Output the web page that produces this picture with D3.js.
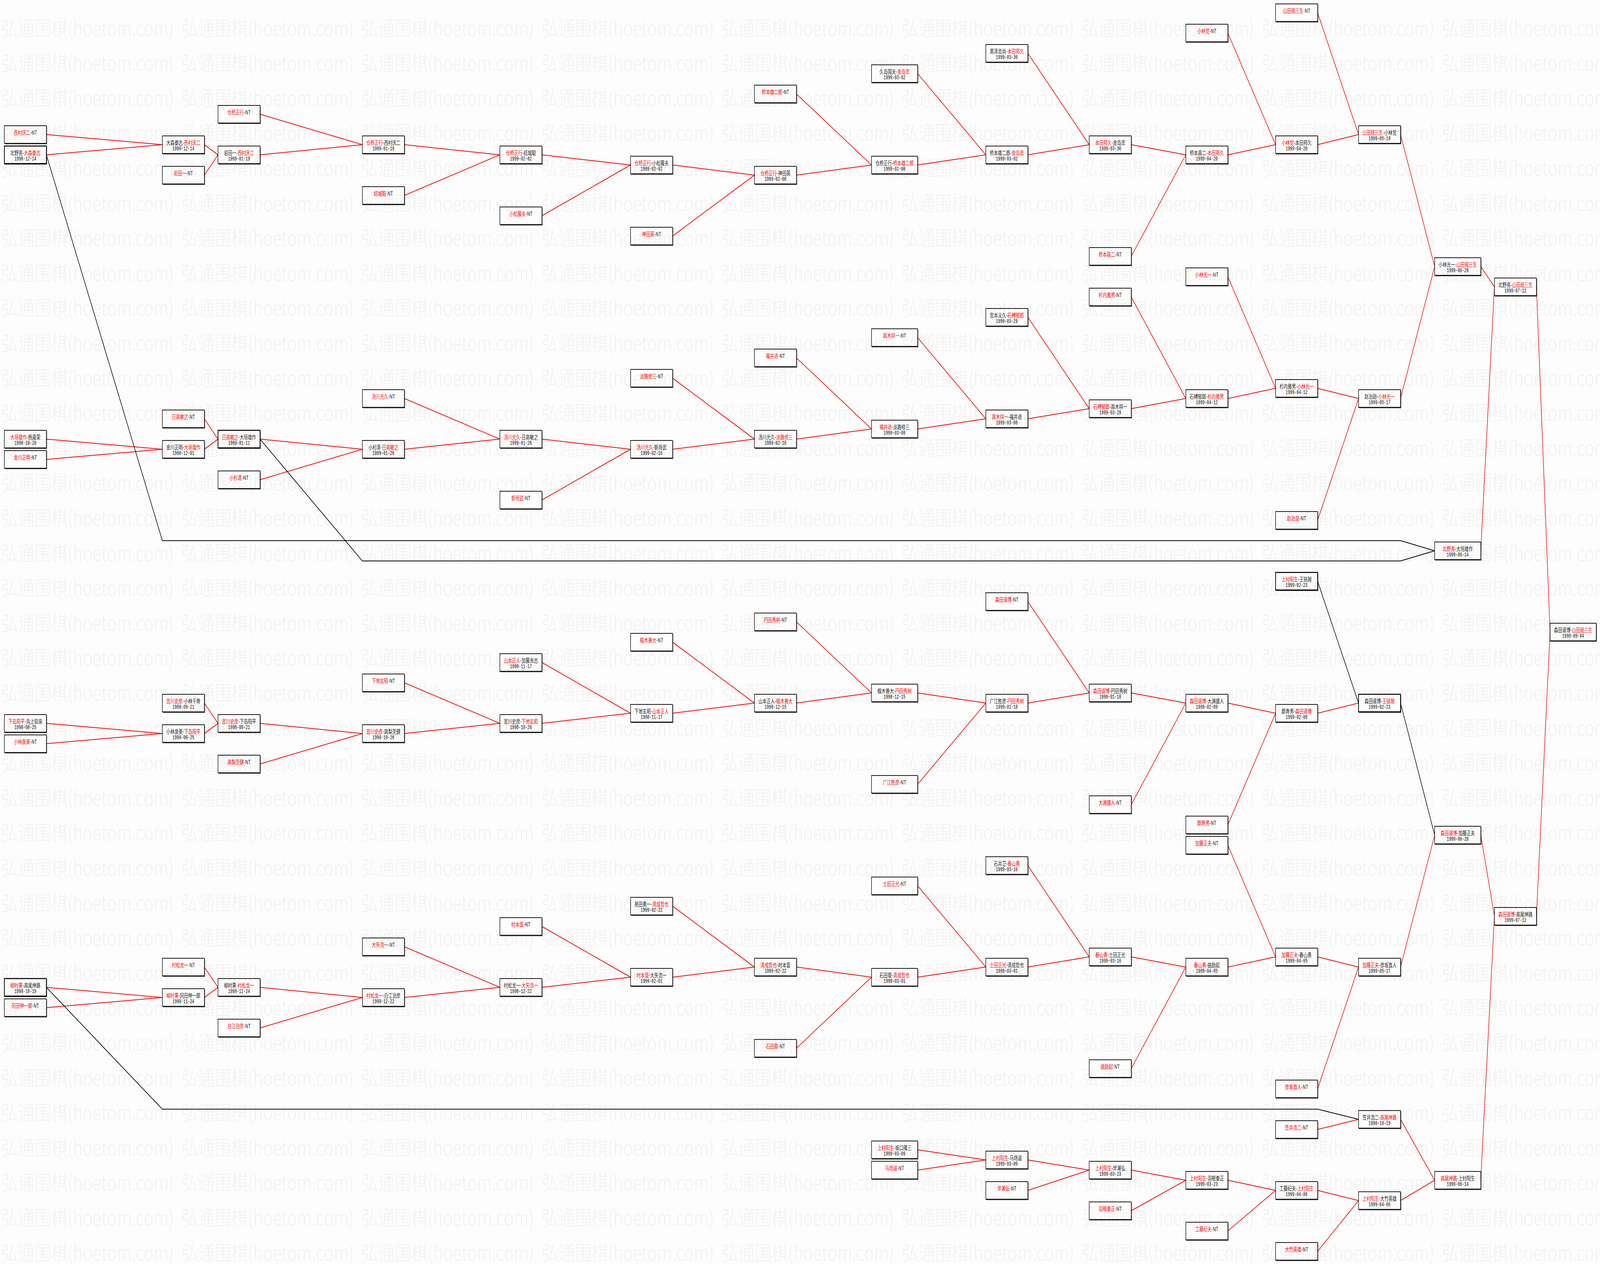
<!DOCTYPE html>
<html>
<head>
<meta charset="utf-8">
<script src="https://cdn.jsdelivr.net/npm/d3@7"></script>
<style>
  html, body { margin: 0; padding: 0; background: #fdfdfd; overflow: hidden; }
  svg { display: block; width: 100vw; height: 100vh; }
</style>
</head>
<body>
<svg id="chart" viewBox="0 0 5864 3237" preserveAspectRatio="none"></svg>
<script>
// each box: [round, slot, playerA, playerB, winner (1 = A, 2 = B), date]
// "NT" as playerB means a bye (no game), playerA goes through
const groupKurahashi = [
  [0, 12, "西村庆二", "NT"],
  [0, 14, "北野亮", "大森泰志", 2, "1998-12-14"],
  [1, 13, "大森泰志", "西村庆二", 2, "1998-12-14"],
  [1, 16, "岩田一", "NT"],
  [2, 10, "仓桥正行", "NT"],
  [2, 14, "岩田一", "西村庆二", 2, "1999-01-19"],
  [3, 13, "仓桥正行", "西村庆二", 1, "1999-01-19"],
  [3, 18, "结城聪", "NT"],
  [4, 14, "仓桥正行", "结城聪", 1, "1999-02-02"],
  [4, 20, "小松藤夫", "NT"],
  [5, 15, "仓桥正行", "小松藤夫", 1, "1999-02-02"],
  [5, 22, "神田英", "NT"],
  [6, 8, "桥本雄二郎", "NT"],
  [6, 16, "仓桥正行", "神田英", 1, "1999-02-08"],
  [7, 6, "久岛国夫", "金岛忠", 2, "1999-03-02"],
  [7, 15, "仓桥正行", "桥本雄二郎", 2, "1999-02-08"],
  [8, 4, "黑泽忠尚", "本田邦久", 2, "1999-03-30"],
  [8, 14, "桥本雄二郎", "金岛忠", 2, "1999-03-02"],
  [9, 13, "本田邦久", "金岛忠", 1, "1999-03-30"],
  [9, 24, "桥本昌二", "NT"],
  [10, 2, "小林觉", "NT"],
  [10, 14, "桥本昌二", "本田邦久", 2, "1999-04-20"],
  [11, 0, "山田规三生", "NT"],
  [11, 13, "小林觉", "本田邦久", 1, "1999-04-20"],
  [12, 12, "山田规三生", "小林觉", 1, "1999-05-10"],
  [13, 25, "小林光一", "山田规三生", 2, "1999-06-28"],
  [14, 27, "北野亮", "山田规三生", 2, "1999-07-12"],
  [15, 61, "森田道博", "山田规三生", 2, "1999-09-04"]
];

const groupYukawa = [
  [0, 42, "大垣雄作", "杨嘉荣", 1, "1998-10-20"],
  [0, 44, "金川正明", "NT"],
  [1, 40, "日高敏之", "NT"],
  [1, 43, "金川正明", "大垣雄作", 2, "1998-12-01"],
  [2, 42, "日高敏之", "大垣雄作", 1, "1999-01-11"],
  [2, 46, "小杉清", "NT"],
  [3, 38, "汤川光久", "NT"],
  [3, 43, "小杉清", "日高敏之", 2, "1999-01-26"],
  [4, 42, "汤川光久", "日高敏之", 1, "1999-01-26"],
  [4, 48, "新垣武", "NT"],
  [5, 36, "淡路修三", "NT"],
  [5, 43, "汤川光久", "新垣武", 1, "1999-02-16"],
  [6, 34, "福井进", "NT"],
  [6, 42, "汤川光久", "淡路修三", 2, "1999-02-16"],
  [7, 32, "高木祥一", "NT"],
  [7, 41, "福井进", "淡路修三", 1, "1999-03-08"],
  [8, 30, "宫本义久", "石榑郁郎", 2, "1999-03-29"],
  [8, 40, "高木祥一", "福井进", 1, "1999-03-08"],
  [9, 28, "杉内雅男", "NT"],
  [9, 39, "石榑郁郎", "高木祥一", 1, "1999-03-29"],
  [10, 26, "小林光一", "NT"],
  [10, 38, "石榑郁郎", "杉内雅男", 2, "1999-04-12"],
  [11, 37, "杉内雅男", "小林光一", 2, "1999-04-12"],
  [11, 50, "赵治勋", "NT"],
  [12, 38, "赵治勋", "小林光一", 2, "1999-05-17"],
  [13, 53, "北野亮", "大垣雄作", 1, "1999-06-14"]
];

const groupMiyakawa = [
  [0, 70, "下岛阳平", "沟上知亲", 1, "1998-08-25"],
  [0, 72, "小林泉美", "NT"],
  [1, 68, "宫川史彦", "小林千寿", 1, "1998-09-21"],
  [1, 71, "小林泉美", "下岛阳平", 2, "1998-08-25"],
  [2, 70, "宫川史彦", "下岛阳平", 1, "1998-09-21"],
  [2, 74, "高梨圣健", "NT"],
  [3, 66, "下地玄昭", "NT"],
  [3, 71, "宫川史彦", "高梨圣健", 1, "1998-10-26"],
  [4, 64, "山本正人", "加藤充志", 1, "1998-11-17"],
  [4, 70, "宫川史彦", "下地玄昭", 2, "1998-10-26"],
  [5, 62, "植木善大", "NT"],
  [5, 69, "下地玄昭", "山本正人", 2, "1998-11-17"],
  [6, 60, "円田秀树", "NT"],
  [6, 68, "山本正人", "植木善大", 2, "1998-12-15"],
  [7, 67, "植木善大", "円田秀树", 2, "1998-12-15"],
  [7, 76, "广江胜彦", "NT"],
  [8, 58, "森田道博", "NT"],
  [8, 68, "广江胜彦", "円田秀树", 2, "1999-01-18"],
  [9, 67, "森田道博", "円田秀树", 1, "1999-01-18"],
  [9, 78, "大渊盛人", "NT"],
  [10, 68, "森田道博", "大渊盛人", 1, "1999-02-09"],
  [10, 80, "郡寿男", "NT"],
  [11, 56, "上村阳生", "王铭琬", 1, "1999-02-23"],
  [11, 69, "郡寿男", "森田道博", 2, "1999-02-09"],
  [12, 68, "森田道博", "王铭琬", 2, "1999-02-23"],
  [13, 81, "森田道博", "加藤正夫", 1, "1999-06-28"],
  [14, 89, "森田道博", "高尾绅路", 1, "1999-07-12"]
];

const groupKiyonari = [
  [0, 96, "柳时熏", "高尾绅路", 1, "1998-10-19"],
  [0, 98, "冈田伸一郎", "NT"],
  [1, 94, "村松龙一", "NT"],
  [1, 97, "柳时熏", "冈田伸一郎", 1, "1998-11-24"],
  [2, 96, "柳时熏", "村松龙一", 2, "1998-11-24"],
  [2, 100, "白江治彦", "NT"],
  [3, 92, "大矢浩一", "NT"],
  [3, 97, "村松龙一", "白江治彦", 1, "1998-12-22"],
  [4, 90, "时本壹", "NT"],
  [4, 96, "村松龙一", "大矢浩一", 2, "1998-12-22"],
  [5, 88, "苑田勇一", "清成哲也", 2, "1999-02-22"],
  [5, 95, "时本壹", "大矢浩一", 1, "1999-02-01"],
  [6, 94, "清成哲也", "时本壹", 1, "1999-02-22"],
  [6, 102, "石田章", "NT"],
  [7, 86, "土田正光", "NT"],
  [7, 95, "石田章", "清成哲也", 2, "1999-03-01"],
  [8, 84, "石井卫", "春山勇", 2, "1999-03-16"],
  [8, 94, "土田正光", "清成哲也", 1, "1999-03-01"],
  [9, 93, "春山勇", "土田正光", 1, "1999-03-16"],
  [9, 104, "曲励起", "NT"],
  [10, 82, "加藤正夫", "NT"],
  [10, 94, "春山勇", "曲励起", 1, "1999-04-05"],
  [11, 93, "加藤正夫", "春山勇", 1, "1999-04-05"],
  [11, 106, "彦坂直人", "NT"],
  [12, 94, "加藤正夫", "彦坂直人", 1, "1999-05-17"]
];

const groupUemura = [
  [7, 112, "上村阳生", "坂口隆三", 1, "1999-03-09"],
  [7, 114, "马场滋", "NT"],
  [8, 113, "上村阳生", "马场滋", 1, "1999-03-09"],
  [8, 116, "早濑弘", "NT"],
  [9, 114, "上村阳生", "早濑弘", 1, "1999-03-23"],
  [9, 118, "羽根泰正", "NT"],
  [10, 115, "上村阳生", "羽根泰正", 1, "1999-03-23"],
  [10, 120, "工藤纪夫", "NT"],
  [11, 110, "笠井浩二", "NT"],
  [11, 116, "工藤纪夫", "上村阳生", 2, "1999-04-06"],
  [11, 122, "大竹英雄", "NT"],
  [12, 109, "笠井浩二", "高尾绅路", 2, "1998-10-19"],
  [12, 117, "上村阳生", "大竹英雄", 1, "1999-04-06"],
  [13, 115, "高尾绅路", "上村阳生", 1, "1999-06-14"]
];

// [from, to, slot of the long horizontal run (loser routes only)]
const links = [
  ["西村庆二-NT", "大森泰志-西村庆二"],
  ["北野亮-大森泰志", "大森泰志-西村庆二"],
  ["大森泰志-西村庆二", "岩田一-西村庆二"],
  ["岩田一-NT", "岩田一-西村庆二"],
  ["仓桥正行-NT", "仓桥正行-西村庆二"],
  ["岩田一-西村庆二", "仓桥正行-西村庆二"],
  ["仓桥正行-西村庆二", "仓桥正行-结城聪"],
  ["结城聪-NT", "仓桥正行-结城聪"],
  ["仓桥正行-结城聪", "仓桥正行-小松藤夫"],
  ["小松藤夫-NT", "仓桥正行-小松藤夫"],
  ["仓桥正行-小松藤夫", "仓桥正行-神田英"],
  ["神田英-NT", "仓桥正行-神田英"],
  ["桥本雄二郎-NT", "仓桥正行-桥本雄二郎"],
  ["仓桥正行-神田英", "仓桥正行-桥本雄二郎"],
  ["久岛国夫-金岛忠", "桥本雄二郎-金岛忠"],
  ["仓桥正行-桥本雄二郎", "桥本雄二郎-金岛忠"],
  ["黑泽忠尚-本田邦久", "本田邦久-金岛忠"],
  ["桥本雄二郎-金岛忠", "本田邦久-金岛忠"],
  ["本田邦久-金岛忠", "桥本昌二-本田邦久"],
  ["桥本昌二-NT", "桥本昌二-本田邦久"],
  ["小林觉-NT", "小林觉-本田邦久"],
  ["桥本昌二-本田邦久", "小林觉-本田邦久"],
  ["山田规三生-NT", "山田规三生-小林觉"],
  ["小林觉-本田邦久", "山田规三生-小林觉"],
  ["山田规三生-小林觉", "小林光一-山田规三生"],
  ["赵治勋-小林光一", "小林光一-山田规三生"],
  ["小林光一-山田规三生", "北野亮-山田规三生"],
  ["北野亮-大垣雄作", "北野亮-山田规三生"],
  ["北野亮-山田规三生", "森田道博-山田规三生"],
  ["森田道博-高尾绅路", "森田道博-山田规三生"],

  ["大垣雄作-杨嘉荣", "金川正明-大垣雄作"],
  ["金川正明-NT", "金川正明-大垣雄作"],
  ["日高敏之-NT", "日高敏之-大垣雄作"],
  ["金川正明-大垣雄作", "日高敏之-大垣雄作"],
  ["日高敏之-大垣雄作", "小杉清-日高敏之"],
  ["小杉清-NT", "小杉清-日高敏之"],
  ["汤川光久-NT", "汤川光久-日高敏之"],
  ["小杉清-日高敏之", "汤川光久-日高敏之"],
  ["汤川光久-日高敏之", "汤川光久-新垣武"],
  ["新垣武-NT", "汤川光久-新垣武"],
  ["淡路修三-NT", "汤川光久-淡路修三"],
  ["汤川光久-新垣武", "汤川光久-淡路修三"],
  ["福井进-NT", "福井进-淡路修三"],
  ["汤川光久-淡路修三", "福井进-淡路修三"],
  ["高木祥一-NT", "高木祥一-福井进"],
  ["福井进-淡路修三", "高木祥一-福井进"],
  ["宫本义久-石榑郁郎", "石榑郁郎-高木祥一"],
  ["高木祥一-福井进", "石榑郁郎-高木祥一"],
  ["杉内雅男-NT", "石榑郁郎-杉内雅男"],
  ["石榑郁郎-高木祥一", "石榑郁郎-杉内雅男"],
  ["小林光一-NT", "杉内雅男-小林光一"],
  ["石榑郁郎-杉内雅男", "杉内雅男-小林光一"],
  ["杉内雅男-小林光一", "赵治勋-小林光一"],
  ["赵治勋-NT", "赵治勋-小林光一"],
  ["北野亮-大森泰志", "北野亮-大垣雄作", 52],
  ["日高敏之-大垣雄作", "北野亮-大垣雄作", 54],

  ["下岛阳平-沟上知亲", "小林泉美-下岛阳平"],
  ["小林泉美-NT", "小林泉美-下岛阳平"],
  ["宫川史彦-小林千寿", "宫川史彦-下岛阳平"],
  ["小林泉美-下岛阳平", "宫川史彦-下岛阳平"],
  ["宫川史彦-下岛阳平", "宫川史彦-高梨圣健"],
  ["高梨圣健-NT", "宫川史彦-高梨圣健"],
  ["下地玄昭-NT", "宫川史彦-下地玄昭"],
  ["宫川史彦-高梨圣健", "宫川史彦-下地玄昭"],
  ["山本正人-加藤充志", "下地玄昭-山本正人"],
  ["宫川史彦-下地玄昭", "下地玄昭-山本正人"],
  ["植木善大-NT", "山本正人-植木善大"],
  ["下地玄昭-山本正人", "山本正人-植木善大"],
  ["円田秀树-NT", "植木善大-円田秀树"],
  ["山本正人-植木善大", "植木善大-円田秀树"],
  ["植木善大-円田秀树", "广江胜彦-円田秀树"],
  ["广江胜彦-NT", "广江胜彦-円田秀树"],
  ["森田道博-NT", "森田道博-円田秀树"],
  ["广江胜彦-円田秀树", "森田道博-円田秀树"],
  ["森田道博-円田秀树", "森田道博-大渊盛人"],
  ["大渊盛人-NT", "森田道博-大渊盛人"],
  ["森田道博-大渊盛人", "郡寿男-森田道博"],
  ["郡寿男-NT", "郡寿男-森田道博"],
  ["上村阳生-王铭琬", "森田道博-王铭琬"],
  ["郡寿男-森田道博", "森田道博-王铭琬"],
  ["森田道博-王铭琬", "森田道博-加藤正夫"],
  ["加藤正夫-彦坂直人", "森田道博-加藤正夫"],
  ["森田道博-加藤正夫", "森田道博-高尾绅路"],
  ["高尾绅路-上村阳生", "森田道博-高尾绅路"],

  ["柳时熏-高尾绅路", "柳时熏-冈田伸一郎"],
  ["冈田伸一郎-NT", "柳时熏-冈田伸一郎"],
  ["村松龙一-NT", "柳时熏-村松龙一"],
  ["柳时熏-冈田伸一郎", "柳时熏-村松龙一"],
  ["柳时熏-村松龙一", "村松龙一-白江治彦"],
  ["白江治彦-NT", "村松龙一-白江治彦"],
  ["大矢浩一-NT", "村松龙一-大矢浩一"],
  ["村松龙一-白江治彦", "村松龙一-大矢浩一"],
  ["时本壹-NT", "时本壹-大矢浩一"],
  ["村松龙一-大矢浩一", "时本壹-大矢浩一"],
  ["苑田勇一-清成哲也", "清成哲也-时本壹"],
  ["时本壹-大矢浩一", "清成哲也-时本壹"],
  ["清成哲也-时本壹", "石田章-清成哲也"],
  ["石田章-NT", "石田章-清成哲也"],
  ["土田正光-NT", "土田正光-清成哲也"],
  ["石田章-清成哲也", "土田正光-清成哲也"],
  ["石井卫-春山勇", "春山勇-土田正光"],
  ["土田正光-清成哲也", "春山勇-土田正光"],
  ["春山勇-土田正光", "春山勇-曲励起"],
  ["曲励起-NT", "春山勇-曲励起"],
  ["加藤正夫-NT", "加藤正夫-春山勇"],
  ["春山勇-曲励起", "加藤正夫-春山勇"],
  ["加藤正夫-春山勇", "加藤正夫-彦坂直人"],
  ["彦坂直人-NT", "加藤正夫-彦坂直人"],

  ["上村阳生-坂口隆三", "上村阳生-马场滋"],
  ["马场滋-NT", "上村阳生-马场滋"],
  ["上村阳生-马场滋", "上村阳生-早濑弘"],
  ["早濑弘-NT", "上村阳生-早濑弘"],
  ["上村阳生-早濑弘", "上村阳生-羽根泰正"],
  ["羽根泰正-NT", "上村阳生-羽根泰正"],
  ["上村阳生-羽根泰正", "工藤纪夫-上村阳生"],
  ["工藤纪夫-NT", "工藤纪夫-上村阳生"],
  ["工藤纪夫-上村阳生", "上村阳生-大竹英雄"],
  ["大竹英雄-NT", "上村阳生-大竹英雄"],
  ["柳时熏-高尾绅路", "笠井浩二-高尾绅路", 108],
  ["笠井浩二-NT", "笠井浩二-高尾绅路"],
  ["笠井浩二-高尾绅路", "高尾绅路-上村阳生"],
  ["上村阳生-大竹英雄", "高尾绅路-上村阳生"]
];

// spacing between rounds, left to right
const roundGap = [425, 50, 375, 350, 325, 300, 275, 250, 225, 200, 175, 150, 125, 50, 50];

const W = 5864, H = 3237;
const boxH = 45, pad = 26.5;
const RED = "#ff0000";

const boxes = [].concat(groupKurahashi, groupYukawa, groupMiyakawa, groupKiyonari, groupUemura)
  .map(r => {
    const d = {col: r[0], slot: r[1], a: r[2], b: r[3], date: r[5] || null};
    d.key = d.a + "-" + d.b;
    d.winner = (d.b === "NT" || r[4] === 1) ? d.a : d.b;
    return d;
  });
const byKey = new Map(boxes.map(d => [d.key, d]));

// width of a label in the old SimSun metrics: full-width 15, half-width 7.5
const labelWidth = s => Array.from(s).reduce((t, ch) => t + (ch.charCodeAt(0) < 256 ? 7.5 : 15), 0);

const nCols = roundGap.length + 1;
const colWidth = d3.range(nCols).map(c =>
  d3.max(boxes.filter(d => d.col === c), d => labelWidth(d.key)) + pad);
const colLeft = [16];
for (let c = 1; c < nCols; c++) colLeft.push(colLeft[c - 1] + colWidth[c - 1] + roundGap[c - 1]);

const x = d3.scaleOrdinal().domain(d3.range(nCols)).range(colLeft);
const y = d3.scaleLinear().domain([0, 122]).range([10, 10 + 122 * 26]);

const svg = d3.select("#chart");
svg.append("rect").attr("width", W).attr("height", H).attr("fill", "#fdfdfd");

// site watermark (faint, repeated)
const wm = svg.append("g").attr("fill", "#f2f2f2")
  .attr("font-family", "'Noto Sans CJK SC', sans-serif").attr("font-size", 52).attr("font-weight", 300);
d3.range(36).forEach(i => {
  d3.range(9).forEach(j => {
    wm.append("text")
      .attr("x", 5 + j * 660).attr("y", 69 + i * 89.6)
      .attr("dominant-baseline", "central")
      .attr("textLength", 632).attr("lengthAdjust", "spacingAndGlyphs")
      .text("弘通围棋(hoetom.com)");
  });
});

// links
const line = d3.line();
const linkData = links.map(l => {
  const s = byKey.get(l[0]), t = byKey.get(l[1]);
  const sx = x(s.col) + colWidth[s.col], sy = y(s.slot) + boxH / 2;
  const tx = x(t.col), ty = y(t.slot) + boxH / 2;
  let pts = [[sx, sy], [tx, ty]];
  if (l[2] != null) {
    const vy = y(l[2]) + boxH / 2;
    pts = [[sx, sy], [x(s.col + 1), vy], [x(t.col - 1) + colWidth[t.col - 1], vy], [tx, ty]];
  }
  const win = t.a === s.winner || t.b === s.winner;
  if (!win) s.loserOut = true;
  return {pts, color: win ? RED : "#000"};
});

svg.append("g").attr("fill", "none").attr("stroke-width", 2)
  .selectAll("path").data(linkData).join("path")
  .attr("d", d => line(d.pts))
  .attr("stroke", d => d.color);

// boxes
const g = svg.append("g").selectAll("g").data(boxes).join("g")
  .attr("transform", d => `translate(${x(d.col)},${y(d.slot)})`);

g.append("path")
  .attr("d", d => `M1.5,${boxH + 1.5}H${colWidth[d.col] + 1.5}V1.5`)
  .attr("fill", "none").attr("stroke", "#222").attr("stroke-width", 1.5);

g.append("rect")
  .attr("width", d => colWidth[d.col]).attr("height", boxH)
  .attr("fill", "none").attr("stroke", "#000")
  .attr("stroke-width", d => d.loserOut ? 2.6 : 1.8);

const name = g.append("text")
  .attr("x", d => colWidth[d.col] / 2).attr("y", 16)
  .attr("text-anchor", "middle").attr("dominant-baseline", "central")
  .attr("font-family", "'Noto Sans CJK SC', sans-serif").attr("font-size", 15);
name.append("tspan").text(d => d.a).attr("fill", d => d.winner === d.a ? RED : "#222");
name.append("tspan").text("-").attr("fill", "#222");
name.append("tspan").text(d => d.b).attr("fill", d => d.winner === d.b ? RED : "#222");

g.filter(d => d.date).append("text")
  .attr("x", d => colWidth[d.col] / 2).attr("y", 33)
  .attr("text-anchor", "middle").attr("dominant-baseline", "central")
  .attr("font-family", "'Liberation Mono', monospace").attr("font-size", 15)
  .attr("textLength", 80).attr("lengthAdjust", "spacingAndGlyphs")
  .attr("fill", "#000")
  .text(d => d.date);
</script>
</body>
</html>
